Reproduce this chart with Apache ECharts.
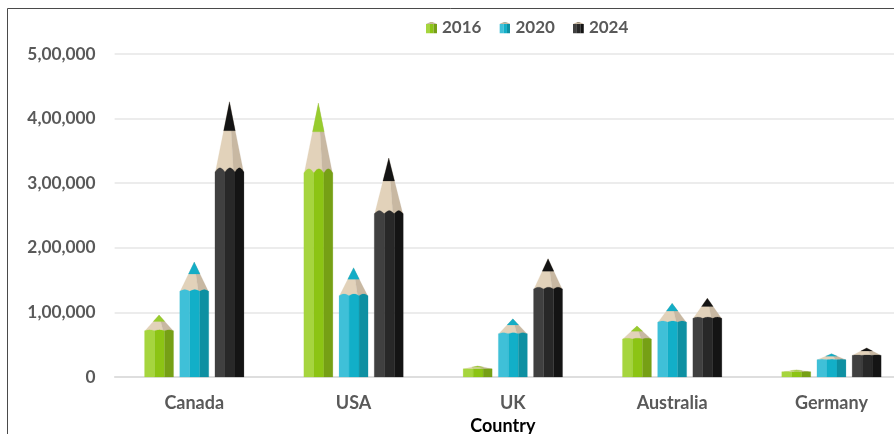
<!DOCTYPE html>
<html>
<head>
<meta charset="utf-8">
<style>
  html, body { margin: 0; padding: 0; background: #fff; overflow: hidden; }
  #chart { width: 894px; height: 434px; }
</style>
<script src="https://cdn.jsdelivr.net/npm/echarts@6/dist/echarts.min.js"></script>
</head>
<body>
<div id="chart"></div>
<script>
// Medal-style country comparison, drawn as pencils whose tip marks the value.
const categories = ['Canada', 'USA', 'UK', 'Australia', 'Germany'];
const years = ['2016', '2020', '2024'];
const values2016 = [96000, 424000, 17000, 79000, 11000];
const values2020 = [178000, 169000, 90000, 114000, 36000];
const values2024 = [426000, 339000, 183000, 122000, 45000];
const yTickLabels = ['0', '1,00,000', '2,00,000', '3,00,000', '4,00,000', '5,00,000'];

const FONT = 'Lato, "Open Sans", sans-serif';
const WOOD_LIGHT = '#e2d2ba', WOOD_DARK = '#c8b8a2';
const palettes = [
  { light: '#a6d53e', mid: '#8cc414', dark: '#76a015', lead: '#97cc2e' },
  { light: '#3fc0d8', mid: '#12afc8', dark: '#0e90a2', lead: '#14adc6' },
  { light: '#404040', mid: '#282828', dark: '#141414', lead: '#141414' }
];

// Proportions of a pencil, as fractions of its own height and width.
const SLOT_OFFSET = 35.2 / 159.3;   // centre-to-centre spacing within a category
const PENCIL_WIDTH = 29 / 159.3;
const VALLEY = 0.745, PEAK = 0.76, LEAD = 0.895;
const FACETS = [0, 0.345, 0.69, 1];

function renderPencil(seriesIdx) {
  const pal = palettes[seriesIdx];
  return function (params, api) {
    const tip = api.coord([api.value(0), api.value(1)]);
    const base = api.coord([api.value(0), 0]);
    const band = api.size([1, 0])[0];
    const w = band * PENCIL_WIDTH;
    const cx = tip[0] + (seriesIdx - 1) * band * SLOT_OFFSET;
    const h = base[1] - tip[1];
    const left = cx - w / 2;
    const yAt = f => base[1] - h * f;
    const xAt = f => left + w * f;
    const halfAt = f => (1 - f) / (1 - VALLEY) * w * 0.485;
    const poly = (points, fill) => ({
      type: 'polygon',
      shape: { points },
      style: { fill, stroke: fill, lineWidth: 0.2 }
    });

    const children = [];
    // sharpened wood, split into a lit and a shaded side
    const splitX = cx + w * 0.14;
    const woodTop = [cx, yAt(1)];
    children.push(poly([[cx - halfAt(VALLEY), yAt(VALLEY)], [splitX, yAt(VALLEY)], woodTop], WOOD_LIGHT));
    children.push(poly([[splitX, yAt(VALLEY)], [cx + halfAt(VALLEY), yAt(VALLEY)], woodTop], WOOD_DARK));
    // lead point
    children.push(poly([[cx - halfAt(LEAD), yAt(LEAD)], [cx + halfAt(LEAD), yAt(LEAD)], [cx, yAt(1)]], pal.lead));
    // three painted facets with a scalloped upper edge
    [pal.light, pal.mid, pal.dark].forEach((fill, i) => {
      const a = FACETS[i], b = FACETS[i + 1];
      const pts = [[xAt(a), base[1]], [xAt(b), base[1]]];
      for (let s = 10; s >= 0; s--) {
        const t = s / 10;
        const f = VALLEY + (PEAK - VALLEY) * Math.sin(Math.PI * t);
        pts.push([xAt(a + (b - a) * t), yAt(f)]);
      }
      children.push(poly(pts, fill));
    });
    return { type: 'group', children };
  };
}

// Small pencil stub used as the legend key.
function legendIcon(pal) {
  const svg = '<svg xmlns="http://www.w3.org/2000/svg" width="22" height="24" viewBox="0 0 22 24">' +
    '<polygon points="0,5 11,0 22,5" fill="' + WOOD_DARK + '"/>' +
    '<polygon points="8,1.4 11,0 14,1.4" fill="' + pal.lead + '"/>' +
    '<rect x="0" y="5" width="8" height="19" fill="' + pal.light + '"/>' +
    '<rect x="8" y="5" width="7" height="19" fill="' + pal.mid + '"/>' +
    '<rect x="15" y="5" width="7" height="19" fill="' + pal.dark + '"/></svg>';
  return 'image://data:image/svg+xml;charset=utf-8,' + encodeURIComponent(svg);
}

const seriesValues = [values2016, values2020, values2024];
const chart = echarts.init(document.getElementById('chart'), null, { renderer: 'canvas' });
chart.setOption({
  animation: false,
  backgroundColor: '#ffffff',
  legend: {
    left: 421,
    top: 14,
    itemWidth: 11,
    itemHeight: 12,
    itemGap: 18,
    textStyle: { fontFamily: FONT, fontWeight: 'bold', fontSize: 17, color: '#595959' },
    data: years.map((name, i) => ({ name, icon: legendIcon(palettes[i]) }))
  },
  grid: { left: 114.6, top: 54, width: 796.5, height: 323, containLabel: false, outerBoundsMode: 'none' },
  xAxis: {
    type: 'category',
    data: categories,
    name: 'Country',
    nameLocation: 'middle',
    nameGap: 39,
    nameTextStyle: { fontFamily: FONT, fontWeight: 'bold', fontSize: 18, color: '#000000', padding: [0, 20, 0, 0] },
    axisTick: { show: false },
    axisLine: { lineStyle: { color: '#d9d9d9', width: 1.5 } },
    axisLabel: { fontFamily: FONT, fontWeight: 'bold', fontSize: 18, color: '#595959', margin: 17 }
  },
  yAxis: {
    type: 'value',
    min: 0,
    max: 500000,
    interval: 100000,
    axisLine: { show: false },
    axisTick: { show: false },
    splitLine: { lineStyle: { color: '#e6e6e6', width: 1.5 } },
    axisLabel: {
      fontFamily: FONT, fontWeight: 'bold', fontSize: 17.3, color: '#595959', margin: 19,
      formatter: v => yTickLabels[Math.round(v / 100000)]
    }
  },
  series: years.map((name, i) => ({
    type: 'custom',
    name,
    renderItem: renderPencil(i),
    encode: { x: 0, y: 1 },
    clip: false,
    data: seriesValues[i].map((v, c) => [c, v])
  })),
  graphic: [
    { type: 'line', shape: { x1: 7.5, y1: 8.5, x2: 894, y2: 8.5 }, style: { stroke: '#4a4a4a', lineWidth: 1 } },
    { type: 'line', shape: { x1: 7.5, y1: 8.5, x2: 7.5, y2: 434 }, style: { stroke: '#4a4a4a', lineWidth: 1 } }
  ]
});
</script>
</body>
</html>
